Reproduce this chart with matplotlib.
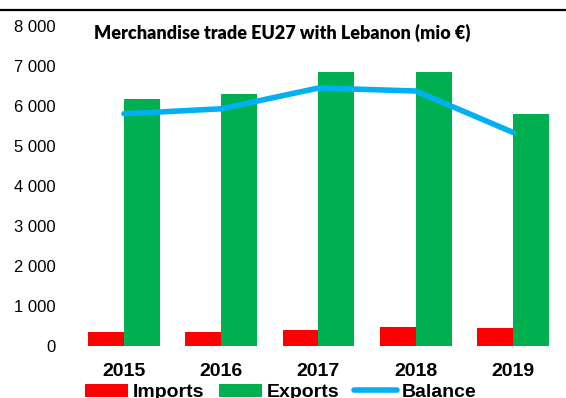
import matplotlib.pyplot as plt
from matplotlib.lines import Line2D
import numpy as np

# EU27 trade with Lebanon, million euro
years = ['2015', '2016', '2017', '2018', '2019']
imports = [355, 345, 400, 480, 440]
exports = [6165, 6290, 6855, 6855, 5790]
balance = [5805, 5930, 6450, 6375, 5340]

red = '#FF0000'
green = '#00B050'
blue = '#00B0F0'

fig = plt.figure(figsize=(5.66, 3.98), dpi=100)
ax = fig.add_axes([0.1332, 0.1307, 0.859, 0.804])

x = np.arange(len(years))
w = 0.37
b1 = ax.bar(x - w / 2, imports, w, color=red, label='Imports')
b2 = ax.bar(x + w / 2, exports, w, color=green, label='Exports')
l1, = ax.plot(x, balance, color=blue, linewidth=4, solid_capstyle='round', label='Balance')

ax.set_xlim(-0.5, 4.5)
ax.set_ylim(0, 8000)
ax.set_xticks(x)
ax.set_xticklabels(years, fontsize=14, fontweight='bold', family='Liberation Sans')
yt = np.arange(0, 8001, 1000)
ax.set_yticks(yt)
ax.set_yticklabels([f'{v:,.0f}'.replace(',', ' ') for v in yt], fontsize=12, family='Liberation Sans')
ax.tick_params(axis='y', length=0, pad=14)
ax.tick_params(axis='x', length=0, pad=12)
for s in ax.spines.values():
    s.set_visible(False)

fig.text(0.498, 0.917, 'Merchandise trade EU27 with Lebanon (mio €)', ha='center', va='center',
         fontsize=13, fontweight='heavy', family='Lato')

# rule across the top
fig.add_artist(Line2D([0, 1], [0.974, 0.974], color='black', linewidth=1.6))

fig.legend(handles=[b1, b2, l1], loc='center left', bbox_to_anchor=(0.15, 0.014), ncol=3, frameon=False,
           prop={'family': 'Liberation Sans', 'weight': 'bold', 'size': 14},
           handlelength=2.2, handletextpad=0.26, columnspacing=0.75, borderpad=0, borderaxespad=0)

fig.savefig('out.png', dpi=100)
